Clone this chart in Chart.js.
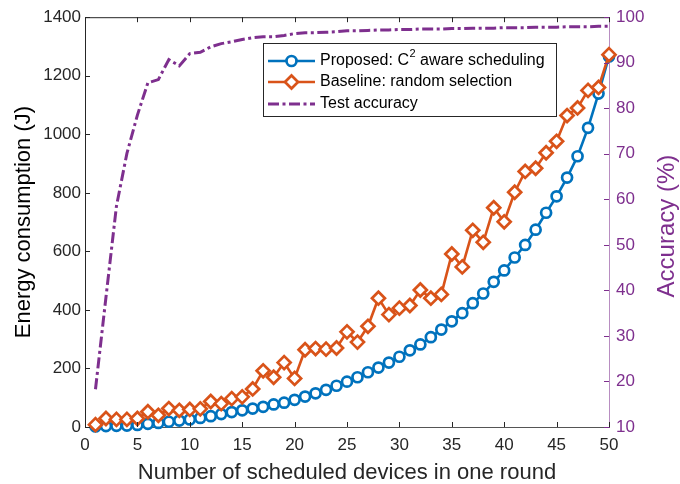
<!DOCTYPE html>
<html>
<head>
<meta charset="utf-8">
<script src="https://cdn.jsdelivr.net/npm/chart.js@4.4.1/dist/chart.umd.min.js"></script>
<style>
  html, body { margin: 0; padding: 0; background: #fff; }
  #wrap { width: 680px; height: 484px; }
</style>
</head>
<body>
<div id="wrap"><canvas id="chart" width="680" height="484"></canvas></div>
<script>
// values
const devices = [1,2,3,4,5,6,7,8,9,10,11,12,13,14,15,16,17,18,19,20,21,22,23,24,25,
                 26,27,28,29,30,31,32,33,34,35,36,37,38,39,40,41,42,43,44,45,46,47,48,49,50];
const proposed = [2,3,4,5,7,11,14,18,22,26, 31,37,44,51,57,63,69,77,83,93,
                  104,115,127,141,155,170,187,203,220,240, 262,282,307,333,361,389,423,456,496,535,
                  579,622,674,732,788,852,925,1022,1139,1266];
const baseline = [8,29,26,26,29,52,40,63,57,60, 62,87,80,97,103,130,192,170,220,166,
                  264,268,266,270,325,290,344,440,384,406, 415,468,440,453,591,547,672,631,749,701,
                  802,873,884,937,976,1064,1090,1150,1160,1272];
const accuracy = [18.3,38.5,58.5,70.1,78.5,85.6,86.3,90.7,89.3,92.0, 92.3,93.5,94.2,94.6,95.1,95.5,95.7,95.7,96.0,96.4,
                  96.6,96.6,96.7,96.8,97.0,97.0,97.1,97.2,97.2,97.3, 97.3,97.4,97.4,97.4,97.5,97.5,97.6,97.6,97.6,97.7,
                  97.7,97.7,97.8,97.8,97.8,97.9,97.9,97.9,98.0,98.0];
const xTicks = [0,5,10,15,20,25,30,35,40,45,50];
const energyTicks = [0,200,400,600,800,1000,1200,1400];
const accTicks = [10,20,30,40,50,60,70,80,90,100];

const BLUE = "#0072BD", ORANGE = "#D95319", PURPLE = "#7E2F8E", AXIS = "#262626";
const FONT = "'Liberation Sans', Arial, Helvetica, sans-serif";

const pts = vals => vals.map((v, i) => ({ x: devices[i], y: v }));
const setTicks = arr => s => { s.ticks = arr.map(v => ({ value: v })); };
const plain = v => String(v);

// MATLAB-style box: inward ticks on all sides, top border, rotated right label, legend
const matlabBox = {
  id: "matlabBox",
  afterDraw(chart) {
    const { ctx, chartArea: a, scales: { x, y, y1 } } = chart;
    const seg = (x0, y0, x1, y1_) => { ctx.beginPath(); ctx.moveTo(x0, y0); ctx.lineTo(x1, y1_); ctx.stroke(); };
    ctx.save();
    ctx.lineWidth = 1;
    ctx.strokeStyle = AXIS;
    seg(a.left, a.top + 0.5, a.right, a.top + 0.5);
    x.ticks.forEach(t => {
      const px = Math.round(x.getPixelForValue(t.value)) + 0.5;
      seg(px, a.bottom, px, a.bottom - 5);
      seg(px, a.top, px, a.top + 5);
    });
    y.ticks.forEach(t => {
      const py = Math.round(y.getPixelForValue(t.value)) + 0.5;
      seg(a.left, py, a.left + 5, py);
    });
    ctx.strokeStyle = PURPLE;
    y1.ticks.forEach(t => {
      const py = Math.round(y1.getPixelForValue(t.value)) + 0.5;
      seg(a.right, py, a.right - 5, py);
    });

    // right axis title, reading bottom to top like MATLAB
    ctx.save();
    ctx.translate(667, (a.top + a.bottom) / 2 + 4);
    ctx.rotate(-Math.PI / 2);
    ctx.fillStyle = PURPLE;
    ctx.font = "24px " + FONT;
    ctx.textAlign = "center";
    ctx.textBaseline = "middle";
    ctx.fillText("Accuracy (%)", 0, 0);
    ctx.restore();

    // legend
    const L = { x: 263.5, y: 43.5, w: 293, h: 73 };
    ctx.fillStyle = "#fff";
    ctx.fillRect(L.x, L.y, L.w, L.h);
    ctx.strokeStyle = AXIS;
    ctx.strokeRect(L.x, L.y, L.w, L.h);
    const rowsY = [61, 82, 104];
    chart.data.datasets.forEach((ds, i) => {
      const yy = rowsY[i];
      ctx.save();
      ctx.strokeStyle = ds.borderColor;
      ctx.lineWidth = ds.borderWidth;
      ctx.setLineDash(ds.borderDash || []);
      seg(268, yy, 315, yy);
      ctx.setLineDash([]);
      if (ds.pointRadius > 0) {
        ctx.fillStyle = ds.pointBackgroundColor;
        ctx.lineWidth = ds.pointBorderWidth;
        Chart.helpers.drawPoint(ctx, { pointStyle: ds.pointStyle, radius: ds.pointRadius, rotation: 0, borderWidth: ds.pointBorderWidth }, 291.5, yy);
      }
      ctx.restore();
    });
    ctx.fillStyle = "#000";
    ctx.font = "16px " + FONT;
    ctx.textAlign = "left";
    ctx.textBaseline = "middle";
    let tx = 320;
    ctx.fillText("Proposed: C", tx, rowsY[0]);
    tx += ctx.measureText("Proposed: C").width;
    ctx.font = "11px " + FONT;
    ctx.fillText("2", tx + 0.5, rowsY[0] - 7);
    tx += ctx.measureText("2").width + 0.5;
    ctx.font = "16px " + FONT;
    ctx.fillText(" aware scheduling", tx, rowsY[0]);
    ctx.fillText("Baseline: random selection", 320, rowsY[1]);
    ctx.fillText("Test accuracy", 320, rowsY[2]);
    ctx.restore();
  }
};

new Chart(document.getElementById("chart").getContext("2d"), {
  type: "line",
  data: {
    datasets: [
      { label: "Proposed: C2 aware scheduling", data: pts(proposed), yAxisID: "y", order: 2,
        borderColor: BLUE, borderWidth: 2.6, pointStyle: "circle", pointRadius: 5,
        pointBorderWidth: 2.7, pointBorderColor: BLUE, pointBackgroundColor: "#fff", tension: 0, clip: false },
      { label: "Baseline: random selection", data: pts(baseline), yAxisID: "y", order: 1,
        borderColor: ORANGE, borderWidth: 2.6, pointStyle: "rectRot", pointRadius: 6.5,
        pointBorderWidth: 2.7, pointBorderColor: ORANGE, pointBackgroundColor: "#fff", tension: 0, clip: false },
      { label: "Test accuracy", data: pts(accuracy), yAxisID: "y1", order: 0,
        borderColor: PURPLE, borderWidth: 3, borderDash: [11, 3.5, 3, 3.5], pointRadius: 0, tension: 0, clip: false }
    ]
  },
  options: {
    responsive: false,
    animation: false,
    layout: { padding: { top: 12, left: 0, right: 0, bottom: 0 } },
    plugins: { legend: { display: false }, tooltip: { enabled: false } },
    scales: {
      x: {
        type: "linear", min: 0, max: 50,
        afterBuildTicks: setTicks(xTicks),
        afterFit: s => { s.height = 57; },
        grid: { display: false, drawTicks: false },
        border: { display: true, color: "#555", width: 1 },
        ticks: { color: AXIS, font: { family: FONT, size: 17 }, padding: 8, maxRotation: 0, autoSkip: false, callback: plain },
        title: { display: true, text: "Number of scheduled devices in one round", color: AXIS,
                 font: { family: FONT, size: 22, lineHeight: 1 }, padding: { top: 0, bottom: 0 } }
      },
      y: {
        position: "left", min: 0, max: 1400,
        afterBuildTicks: setTicks(energyTicks),
        afterFit: s => { s.width = 85; },
        grid: { display: false, drawTicks: false },
        border: { display: true, color: AXIS, width: 1 },
        ticks: { color: AXIS, font: { family: FONT, size: 17 }, padding: 4, autoSkip: false, callback: plain },
        title: { display: true, text: "Energy consumption (J)", color: "#000",
                 font: { family: FONT, size: 22, lineHeight: 1 }, padding: { top: 13, bottom: 0 } }
      },
      y1: {
        position: "right", min: 10, max: 100,
        afterBuildTicks: setTicks(accTicks),
        afterFit: s => { s.width = 71; },
        grid: { display: false, drawTicks: false },
        border: { display: true, color: "rgba(126,47,142,0.55)", width: 1 },
        ticks: { color: PURPLE, font: { family: FONT, size: 17 }, padding: 7, autoSkip: false, callback: plain }
      }
    }
  },
  plugins: [matlabBox]
});
</script>
</body>
</html>
